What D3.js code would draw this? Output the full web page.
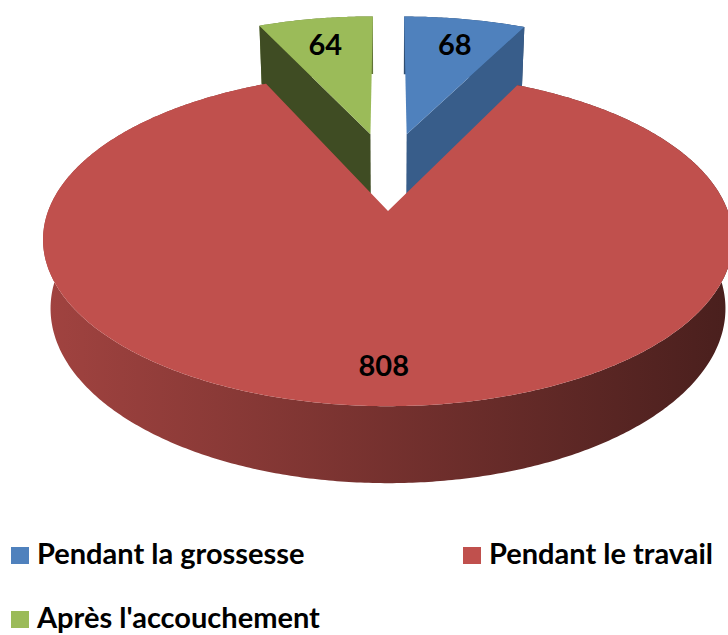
<!DOCTYPE html>
<html>
<head>
<meta charset="utf-8">
<script src="https://cdn.jsdelivr.net/npm/d3@7"></script>
<style>
  body { margin: 0; background: #fff; }
  text { font-family: Lato, "Open Sans", sans-serif; font-weight: bold; fill: #000; }
</style>
</head>
<body>
<svg id="chart" width="728" height="635"></svg>
<script>
// data
const categories = ["Pendant la grossesse", "Pendant le travail", "Après l'accouchement"];
const values = [68, 808, 64];

// styles
const topColors  = ["#4F81BD", "#C0504D", "#9BBB59"];
const sideColors = ["#385D8A", "#8B3836", "#3F4C23"];
const explode    = [0.53, 0, 0.53];

// 3d camera for the pie
const cx = 388, cy = 211, F = 1740, D = 5.12;
const tilt = 28.4 * Math.PI / 180, thick = 0.233;
const ca = Math.cos(tilt), sa = Math.sin(tilt);

function proj(X, Y, Z) {
  const fw = Z * ca - Y * sa + D;
  const up = Z * sa + Y * ca;
  return [cx + F * X / fw, cy - F * up / fw];
}

const svg = d3.select("#chart");
const defs = svg.append("defs");

const pie = d3.pie().sort(null).value(d => d);
const slices = pie(values).map((d, i) => {
  const mid = (d.startAngle + d.endAngle) / 2;
  const e = explode[i];
  // offset outward (x kept smaller, like the excel explode)
  d.off = [e * Math.sin(mid) * 0.5, e * Math.cos(mid)];
  d.mid = mid;
  d.i = i;
  return d;
});

function arcPts(d, y, a0, a1) {
  const n = Math.max(2, Math.ceil(Math.abs(a1 - a0) / 0.01));
  const pts = [];
  for (let k = 0; k <= n; k++) {
    const a = a0 + (a1 - a0) * k / n;
    pts.push(proj(d.off[0] + Math.sin(a), y, d.off[1] + Math.cos(a)));
  }
  return pts;
}

const line = d3.line();

// far slices first
const order = slices.slice().sort((a, b) => Math.cos(b.mid) - Math.cos(a.mid));

order.forEach(d => {
  const g = svg.append("g");
  const top = topColors[d.i];

  // wall gradient (left lighter, right darker)
  const gid = "wall" + d.i;
  const grad = defs.append("linearGradient").attr("id", gid)
    .attr("gradientUnits", "userSpaceOnUse")
    .attr("x1", 43).attr("x2", 733).attr("y1", 0).attr("y2", 0);
  grad.append("stop").attr("offset", 0).attr("stop-color", d3.color(top).darker(0.5));
  grad.append("stop").attr("offset", 1).attr("stop-color", d3.color(top).darker(2.7));

  const wall = arcPts(d, 0, d.startAngle, d.endAngle)
    .concat(arcPts(d, -thick, d.endAngle, d.startAngle));
  g.append("path").attr("d", line(wall) + "Z").attr("fill", "url(#" + gid + ")");

  // radial faces that look to the front
  [[d.startAngle, -1], [d.endAngle, 1]].forEach(([a, s]) => {
    const nz = -s * Math.sin(a);
    if (nz >= -1e-6) return;
    const apexT = proj(d.off[0], 0, d.off[1]);
    const apexB = proj(d.off[0], -thick, d.off[1]);
    const rimT = proj(d.off[0] + Math.sin(a), 0, d.off[1] + Math.cos(a));
    const rimB = proj(d.off[0] + Math.sin(a), -thick, d.off[1] + Math.cos(a));
    g.append("path").attr("d", line([apexT, rimT, rimB, apexB]) + "Z")
      .attr("fill", sideColors[d.i]);
  });

  // top face
  const face = [proj(d.off[0], 0, d.off[1])].concat(arcPts(d, 0, d.startAngle, d.endAngle));
  g.append("path").attr("d", line(face) + "Z").attr("fill", top);
});

// value labels on the top faces
const labelAt = d => proj(d.off[0] + 0.8 * Math.sin(d.mid), 0, d.off[1] + 0.8 * Math.cos(d.mid));
svg.append("g").selectAll("text")
  .data(slices)
  .join("text")
  .attr("x", d => labelAt(d)[0])
  .attr("y", d => labelAt(d)[1] + 4)
  .attr("text-anchor", "middle")
  .attr("dominant-baseline", "central")
  .attr("font-size", 29)
  .text(d => d.data);

// legend
const leg = svg.append("g").selectAll("g")
  .data(categories)
  .join("g")
  .attr("transform", (d, i) => "translate(" + (11 + (i % 2) * 452) + "," + (547 + Math.floor(i / 2) * 64) + ")");
leg.append("rect").attr("width", 18).attr("height", 17).attr("fill", (d, i) => topColors[i]);
leg.append("text").attr("x", 26).attr("y", 17).attr("font-size", 29).text(d => d);
</script>
</body>
</html>
